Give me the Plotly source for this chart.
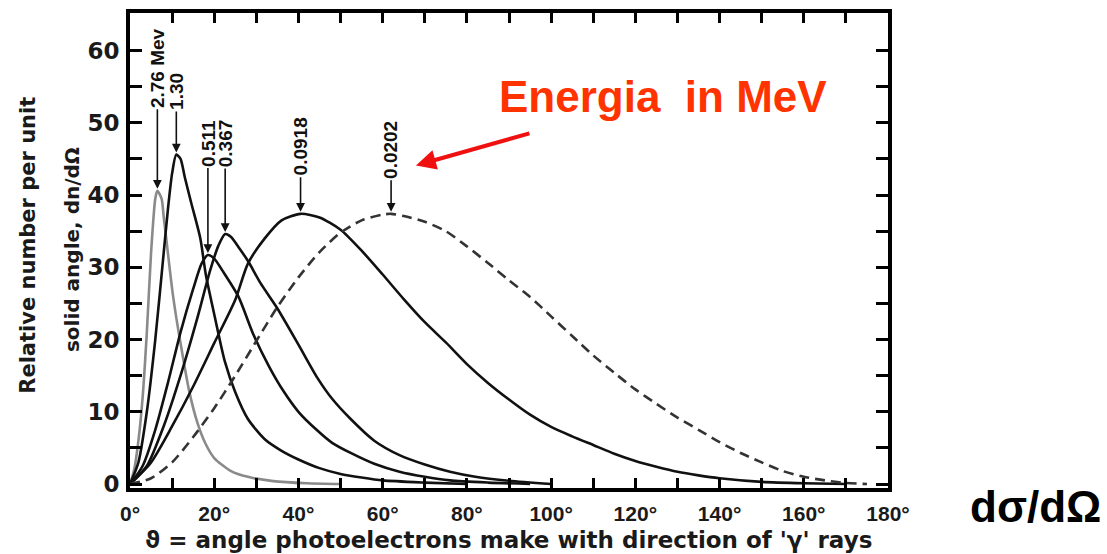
import plotly.graph_objects as go

# Photoelectron angular distributions, one curve per photon energy (MeV)
energies = ["2.76 Mev", "1.30", "0.511", "0.367", "0.0918", "0.0202"]

ang_276 = [0, 1, 2, 3, 4, 5, 6, 6.5, 7.5, 8, 9, 10, 11, 12, 14, 16, 18, 20, 24, 28, 34, 42, 50]
val_276 = [0, 2, 6, 12, 21, 32, 39.5, 40.6, 39.5, 37, 32, 27, 23, 19.5, 13, 8.5, 5.5, 3.6, 1.8, 1.0, 0.4, 0.1, 0]

ang_130 = [0, 2, 4, 6, 8, 9, 10, 11, 12, 13, 14.5, 16.7, 18, 20, 22.5, 25, 28, 32, 36, 40, 45, 50, 55, 60, 70, 80]
val_130 = [0, 3, 10, 20, 32, 38, 43, 45.6, 45, 42.5, 39, 34, 29, 23.5, 17, 12.7, 9, 6.2, 4.6, 3.4, 2.2, 1.4, 0.9, 0.5, 0.2, 0]

ang_511 = [0, 3, 6, 9, 12, 15, 17, 18.5, 20, 22, 25.7, 29.3, 33, 36.4, 40, 44.5, 48, 52.4, 58, 64, 70, 76, 85, 95]
val_511 = [0, 2.5, 7.5, 14, 21, 27, 30.5, 31.7, 31.2, 29.5, 26, 20.7, 16.3, 12.9, 10, 7.4, 5.7, 4.3, 2.8, 1.7, 1.0, 0.5, 0.2, 0]

ang_367 = [0, 4, 8, 12, 16, 19, 21, 22.6, 24, 26, 28.1, 31, 35, 40, 44.5, 48, 52.4, 58, 64, 70, 76, 82, 90, 100]
val_367 = [0, 2.5, 8, 15, 23, 29.5, 33, 34.6, 34.2, 32.6, 30.8, 27.8, 24.3, 19.3, 14.7, 11.8, 9.0, 6.0, 4.0, 2.7, 1.7, 1.0, 0.45, 0]

ang_0918 = [0, 5, 10, 15, 20, 25, 28, 32, 36, 40.5, 45, 50, 55, 60, 65, 70, 75, 80, 85, 90, 95,
            100, 105, 110, 115, 120, 125, 130, 135, 140, 150, 160, 170]
val_0918 = [0, 3, 8, 13.5, 19.5, 25.5, 30.5, 34, 36.5, 37.4, 36.9, 35.2, 32.3, 29, 25.6, 22.4, 19.6, 16.6, 14, 11.7, 9.6,
             7.9, 6.6, 5.4, 4.2, 3.2, 2.4, 1.7, 1.2, 0.8, 0.3, 0.1, 0]

ang_0202 = [0, 5, 10, 15, 20, 25, 30, 35, 40, 45, 50, 55, 60, 62, 65, 70, 75, 80, 85, 90, 95,
            100, 105, 110, 115, 120, 125, 130, 135, 140, 145, 150, 155, 160, 165, 170, 175]
val_0202 = [0, 0.8, 3, 6.5, 10.5, 15, 19.8, 24.5, 28.6, 32.1, 34.8, 36.5, 37.3, 37.4, 37.1, 36.3, 35, 32.9, 30.6, 28.2, 25.9,
            23.2, 20.5, 17.8, 15.4, 13.1, 11.1, 9.2, 7.5, 5.8, 4.3, 3.0, 1.8, 1.0, 0.5, 0.15, 0]

x_ticks = list(range(0, 181, 10))
x_labels = [f"{v}°" if v % 20 == 0 else "" for v in x_ticks]
y_ticks = list(range(0, 61, 5))
y_labels = [str(v) if v % 10 == 0 else "" for v in y_ticks]

curves = [
    (ang_276, val_276, "#8a8a8a", "solid"),
    (ang_130, val_130, "#111111", "solid"),
    (ang_511, val_511, "#111111", "solid"),
    (ang_367, val_367, "#111111", "solid"),
    (ang_0918, val_0918, "#111111", "solid"),
    (ang_0202, val_0202, "#333333", "10px,6px"),
]

fig = go.Figure()
for (xs, ys, col, dash), name in zip(curves, energies):
    fig.add_trace(go.Scatter(
        x=xs, y=ys, mode="lines", name=name,
        line=dict(color=col, width=2.6, dash=dash, shape="spline", smoothing=0.7),
        hoverinfo="skip",
    ))

# energy labels above each peak, with a short arrow down to the maximum
label_offsets = [-123, -63, -112, -91, -67, -64]
label_font = dict(family="Liberation Sans, Arial", size=19, color="#111111", weight="bold")
annotations = []
for (xs, ys, _, _), name, off in zip(curves, energies, label_offsets):
    i = ys.index(max(ys))
    annotations.append(dict(
        x=xs[i], y=ys[i], xref="x", yref="y", text=name, textangle=-90,
        font=label_font, showarrow=True, arrowhead=2, arrowsize=1.1, arrowwidth=1.6,
        arrowcolor="#111111", ax=0, ay=off, standoff=2,
    ))

title_font = dict(family="DejaVu Sans, Liberation Sans", size=21, color="#1a1a1a", weight="bold")
annotations += [
    dict(x=-0.1346, y=0.512, xref="paper", yref="paper", text="Relative number per unit",
         textangle=-90, showarrow=False, font=title_font, xanchor="center", yanchor="middle"),
    dict(x=-0.0765, y=0.501, xref="paper", yref="paper", text="solid angle, dn/dΩ",
         textangle=-90, showarrow=False, font=dict(title_font, size=20),
         xanchor="center", yanchor="middle"),
    dict(x=0.4987, y=-0.1086, xref="paper", yref="paper",
         text="ϑ = angle photoelectrons make with direction of 'γ' rays",
         showarrow=False, font=dict(title_font, size=23), xanchor="center", yanchor="middle"),
    dict(x=0.703, y=0.825, xref="paper", yref="paper", text="Energia\u00a0 in MeV",
         showarrow=False, xanchor="center", yanchor="middle",
         font=dict(family="Liberation Sans, Arial", size=44, color="#FF3300", weight="bold")),
    dict(x=67.9, y=44.1, xref="x", yref="y", ax=95.2, ay=48.6, axref="x", ayref="y",
         text="", showarrow=True, arrowhead=2, arrowsize=1, arrowwidth=4, arrowcolor="#F01010"),
    dict(x=1.194, y=-0.0397, xref="paper", yref="paper", text="dσ/dΩ",
         showarrow=False, xanchor="center", yanchor="middle",
         font=dict(family="Liberation Sans, Arial", size=44, color="#000000", weight="bold")),
]

fig.update_layout(
    width=1107, height=554,
    margin=dict(l=130, r=219, t=9, b=66),
    plot_bgcolor="white", paper_bgcolor="white",
    showlegend=False,
    annotations=annotations,
    xaxis=dict(range=[0, 180], tickvals=x_ticks, ticktext=x_labels, ticks="inside",
               ticklen=10, tickwidth=3, tickcolor="black", showline=True, linewidth=4,
               linecolor="black", mirror="ticks", showgrid=False, zeroline=False,
               tickfont=dict(family="Liberation Sans, Arial", size=21, color="#1a1a1a", weight="bold"),
               ticklabelstandoff=4),
    yaxis=dict(range=[-0.55, 65.2], tickvals=y_ticks, ticktext=y_labels, ticks="inside",
               ticklen=12, tickwidth=3, tickcolor="black", showline=True, linewidth=4,
               linecolor="black", mirror="ticks", showgrid=False, zeroline=False,
               tickfont=dict(family="DejaVu Sans, Liberation Sans", size=23, color="#1a1a1a", weight="bold"),
               ticklabelstandoff=2),
)

fig.write_html("out.html")
